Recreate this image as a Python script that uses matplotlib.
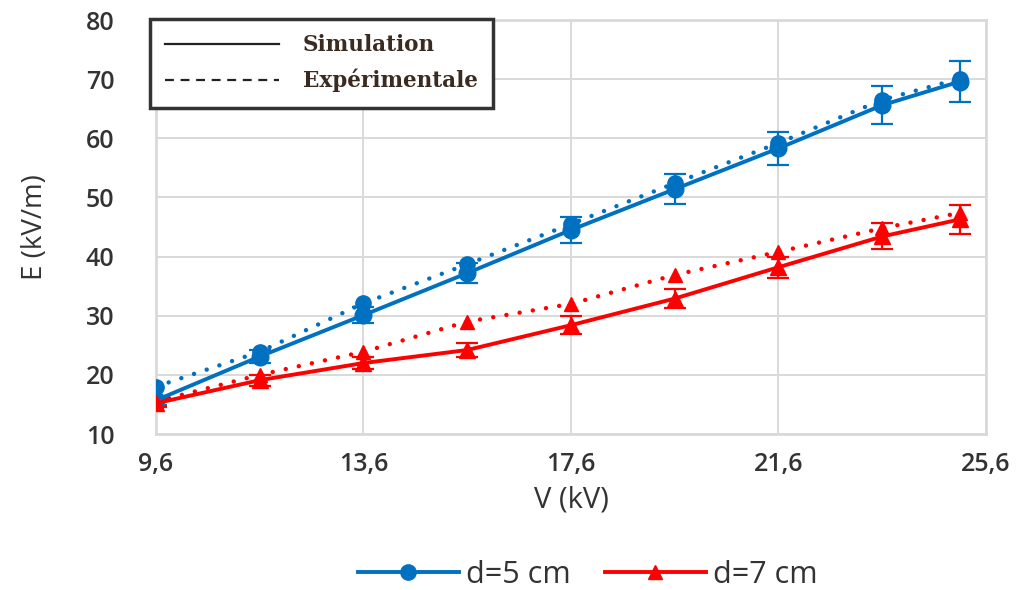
import matplotlib

matplotlib.use("Agg")
import matplotlib.pyplot as plt
from matplotlib.lines import Line2D
from matplotlib.ticker import FuncFormatter

# Tension appliquée (kV)
tension = [9.6, 11.6, 13.6, 15.6, 17.6, 19.6, 21.6, 23.6, 25.1]

# d = 5 cm
e5_sim = [15.7, 23.1, 30.1, 37.2, 44.5, 51.4, 58.3, 65.6, 69.6]
e5_err = [0.8, 1.1, 1.4, 1.7, 2.2, 2.5, 2.8, 3.2, 3.4]
e5_exp = [18.0, 23.9, 32.1, 38.7, 45.5, 52.4, 59.2, 66.5, 70.1]

# d = 7 cm
e7_sim = [15.2, 19.1, 22.0, 24.2, 28.4, 32.9, 38.2, 43.4, 46.3]
e7_err = [0.7, 0.9, 1.0, 1.2, 1.5, 1.6, 1.8, 2.2, 2.4]
e7_exp = [15.5, 20.0, 23.9, 29.0, 32.0, 36.9, 40.8, 44.8, 47.4]

x_ticks = [9.6, 13.6, 17.6, 21.6, 25.6]
y_ticks = [10, 20, 30, 40, 50, 60, 70, 80]

BLUE = "#0070C0"
RED = "#FF0000"
GRID = "#D9D9D9"
TXT = "#333333"
DOTS = (0, (0.01, 3.0))

plt.rcParams["font.family"] = ["Open Sans", "DejaVu Sans"]

fig = plt.figure(figsize=(10.26, 5.9), dpi=100)
ax = fig.add_axes([0.152, 0.2644, 0.809, 0.7017])

series = [
    (e5_sim, e5_err, e5_exp, BLUE, "o", 12),
    (e7_sim, e7_err, e7_exp, RED, "^", 11),
]
for sim, err, exp, color, marker, ms in series:
    ax.plot(tension, exp, color=color, lw=3.2, linestyle=DOTS,
            dash_capstyle="round", marker=marker, ms=ms - 1, zorder=3)
    ax.errorbar(tension, sim, yerr=err, color=color, lw=2.8, marker=marker,
                ms=ms, elinewidth=1.6, capsize=8, capthick=1.6, zorder=4)

ax.set_xlim(9.6, 25.6)
ax.set_ylim(10, 80)
ax.set_xticks(x_ticks)
ax.set_yticks(y_ticks)
ax.xaxis.set_major_formatter(FuncFormatter(lambda v, _: f"{v:.1f}".replace(".", ",")))
ax.tick_params(length=0, labelsize=18, labelcolor=TXT)
for lab in ax.get_xticklabels() + ax.get_yticklabels():
    lab.set_fontweight("semibold")
ax.tick_params(axis="y", pad=30)
ax.tick_params(axis="x", pad=13)
ax.grid(True, color=GRID, lw=1.4)
ax.set_axisbelow(True)
for side in ax.spines.values():
    side.set_color(GRID)
    side.set_linewidth(2)

ax.set_xlabel("V (kV)", fontsize=21, color=TXT, labelpad=6)
ax.set_ylabel("E (kV/m)", fontsize=20, color=TXT, labelpad=26)

# légende des types de courbe
kind_handles = [
    Line2D([], [], color="#222222", lw=1.6, linestyle="-"),
    Line2D([], [], color="#222222", lw=1.6, linestyle=(0, (4, 3))),
]
leg1 = ax.legend(kind_handles, ["Simulation", "Expérimentale"],
                 loc="upper left", bbox_to_anchor=(150 / 1026, 1 - 19 / 590),
                 bbox_transform=fig.transFigure, handlelength=5.3,
                 handletextpad=1.1, borderpad=0.7, labelspacing=0.6,
                 borderaxespad=0, fancybox=False, framealpha=1,
                 prop={"family": "DejaVu Serif", "weight": "bold", "size": 15.5})
leg1.get_frame().set_edgecolor("#333333")
leg1.get_frame().set_linewidth(2.5)
for t in leg1.get_texts():
    t.set_color("#3a2a20")

# légende des distances
dist_handles = [
    Line2D([], [], color=BLUE, lw=2.8, marker="o", ms=11),
    Line2D([], [], color=RED, lw=2.8, marker="^", ms=10),
]
fig.legend(dist_handles, ["d=5 cm", "d=7 cm"], loc="center",
           bbox_to_anchor=(0.573, 1 - 575 / 590), ncol=2, frameon=False,
           handlelength=3.3, handletextpad=0.25, columnspacing=1.1,
           prop={"size": 22}, labelcolor=TXT)

fig.savefig("out.png", dpi=100)
